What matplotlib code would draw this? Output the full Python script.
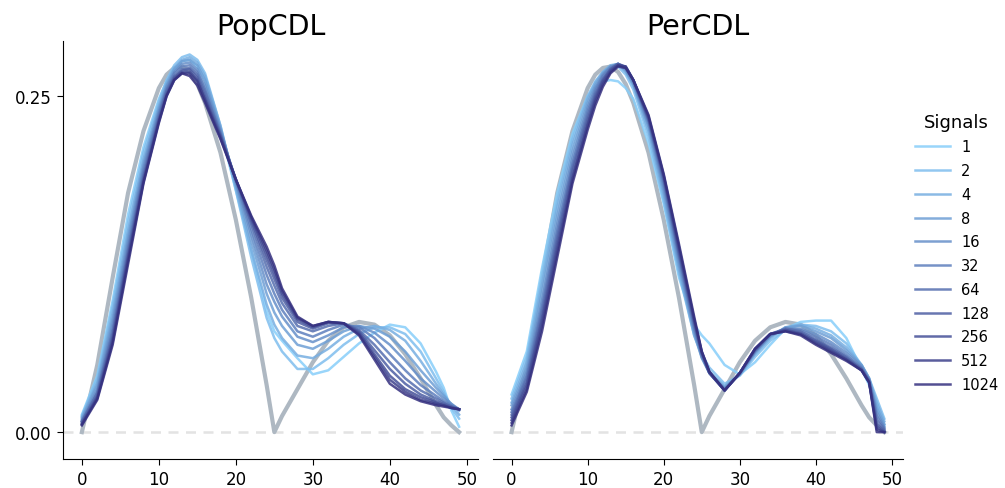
import numpy as np
import matplotlib.pyplot as plt
from matplotlib.colors import to_rgb

# x positions of the samples
x = [0, 2, 4, 6, 8, 10, 11, 12, 13, 14, 15, 16, 18, 20, 22, 24, 25, 26, 28, 30,
     32, 34, 36, 38, 40, 42, 44, 46, 47, 48, 49]

true_signal = [0, .05, .115, .178, .224, .256, .266, .271, .272, .268, .259, .245, .208,
               .158, .1, .035, 0, .012, .032, .052, .068, .078, .082, .08, .072, .058,
               .04, .02, .011, .005, 0]

signals = [1, 2, 4, 8, 16, 32, 64, 128, 256, 512, 1024]

# PopCDL estimates, one row per number of signals
pop = [
    [.013, .042, .098, .162, .212, .248, .261, .27, .276, .277, .272, .262, .225, .18, .135, .09, .075, .068, .055, .043, .046, .056, .066, .074, .08, .078, .066, .045, .033, .016, .004],
    [.012, .04, .094, .156, .208, .246, .262, .273, .279, .281, .277, .267, .228, .18, .13, .085, .07, .06, .047, .047, .055, .065, .073, .078, .078, .073, .06, .04, .03, .018, .01],
    [.011, .037, .089, .15, .203, .243, .26, .271, .277, .279, .275, .265, .228, .182, .136, .095, .08, .07, .057, .055, .062, .071, .077, .079, .076, .068, .053, .036, .028, .02, .013],
    [.01, .035, .085, .146, .2, .241, .258, .27, .276, .277, .273, .262, .226, .184, .142, .103, .089, .079, .065, .062, .068, .075, .079, .077, .071, .06, .046, .033, .027, .021, .016],
    [.009, .032, .081, .142, .197, .239, .257, .268, .274, .275, .27, .258, .225, .186, .147, .11, .097, .086, .071, .067, .072, .078, .079, .074, .065, .053, .04, .03, .025, .021, .017],
    [.008, .03, .077, .138, .194, .237, .255, .267, .272, .273, .268, .255, .223, .187, .151, .117, .103, .091, .075, .071, .076, .08, .078, .07, .058, .046, .035, .027, .023, .02, .017],
    [.008, .029, .074, .135, .191, .235, .254, .265, .27, .271, .266, .253, .222, .188, .155, .123, .109, .096, .079, .075, .079, .081, .076, .065, .052, .04, .031, .025, .022, .019, .017],
    [.007, .027, .071, .132, .189, .233, .252, .264, .269, .27, .264, .25, .221, .188, .157, .128, .114, .1, .082, .077, .081, .081, .075, .061, .047, .036, .028, .023, .021, .019, .017],
    [.006, .026, .069, .13, .187, .232, .251, .263, .268, .268, .262, .248, .22, .188, .159, .132, .118, .103, .084, .078, .082, .081, .074, .058, .042, .032, .026, .022, .02, .018, .017],
    [.006, .025, .067, .128, .186, .231, .25, .262, .267, .267, .261, .247, .219, .188, .16, .135, .121, .105, .085, .079, .082, .081, .073, .056, .039, .03, .024, .021, .02, .018, .017],
    [.005, .024, .065, .125, .185, .23, .25, .262, .267, .265, .258, .245, .218, .188, .161, .138, .124, .107, .086, .079, .082, .081, .072, .054, .036, .028, .023, .02, .019, .018, .017],
]

# PerCDL estimates
per = [
    [.028, .06, .122, .178, .222, .25, .257, .261, .262, .261, .256, .248, .215, .17, .115, .08, .072, .066, .05, .043, .052, .065, .077, .082, .083, .083, .07, .047, .035, .02, .005],
    [.025, .056, .115, .172, .218, .25, .261, .268, .272, .272, .266, .255, .22, .172, .118, .072, .058, .048, .036, .042, .056, .068, .076, .08, .079, .075, .066, .05, .04, .025, .01],
    [.022, .052, .11, .167, .214, .248, .26, .268, .273, .274, .268, .258, .224, .176, .121, .072, .056, .045, .034, .043, .058, .07, .078, .08, .077, .072, .063, .05, .04, .022, .008],
    [.02, .048, .104, .161, .209, .245, .258, .267, .272, .274, .269, .259, .227, .179, .124, .074, .055, .044, .033, .043, .059, .071, .078, .079, .075, .07, .061, .05, .04, .018, .006],
    [.017, .045, .098, .155, .204, .242, .256, .266, .272, .274, .27, .26, .229, .182, .127, .076, .056, .044, .032, .043, .06, .072, .077, .077, .073, .067, .059, .049, .039, .015, .004],
    [.015, .042, .094, .15, .2, .239, .254, .265, .271, .274, .271, .261, .231, .185, .13, .078, .057, .044, .032, .044, .06, .072, .077, .076, .071, .065, .057, .048, .039, .012, .003],
    [.013, .04, .09, .146, .197, .236, .252, .263, .27, .274, .271, .262, .232, .187, .132, .08, .058, .044, .031, .044, .061, .073, .077, .075, .069, .063, .056, .047, .038, .009, .002],
    [.011, .037, .086, .142, .194, .233, .25, .262, .27, .274, .272, .262, .233, .189, .134, .082, .059, .044, .031, .044, .061, .073, .076, .074, .068, .062, .055, .047, .038, .006, .001],
    [.009, .035, .083, .138, .19, .23, .248, .261, .269, .273, .272, .262, .234, .19, .136, .083, .059, .044, .031, .044, .062, .073, .076, .073, .067, .061, .054, .046, .037, .004, 0],
    [.007, .032, .079, .134, .188, .228, .246, .259, .268, .273, .272, .262, .235, .191, .138, .084, .06, .045, .031, .044, .062, .073, .075, .073, .066, .06, .054, .046, .037, .002, 0],
    [.005, .03, .075, .13, .185, .225, .243, .257, .267, .272, .271, .262, .236, .192, .14, .086, .06, .045, .031, .044, .062, .073, .075, .072, .065, .059, .053, .046, .037, 0, 0],
]

# colours: light sky blue -> dark slate blue
c0 = np.array(to_rgb("#87CEFA"))
c1 = np.array(to_rgb("#35307f"))
colors = [tuple(c0 + (c1 - c0) * t) for t in np.linspace(0, 1, len(signals))]

fig = plt.figure(figsize=(10.05, 4.89), dpi=100)
ax1 = fig.add_axes([0.0627, 0.0593, 0.4129, 0.8547])
ax2 = fig.add_axes([0.4905, 0.0593, 0.4080, 0.8547], sharey=ax1)

for ax, est, title in [(ax1, pop, "PopCDL"), (ax2, per, "PerCDL")]:
    ax.axhline(0, color="#e3e3e3", ls=(0, (4, 3)), lw=1.8, zorder=0)
    ax.plot(x, true_signal, color="#aeb8c2", lw=3, zorder=1)
    for s, y, c in zip(signals, est, colors):
        ax.plot(x, y, color=c, lw=1.8, alpha=0.85, label=str(s), zorder=2)
    ax.set_title(title, fontsize=20.5, pad=5)
    ax.set_xticks([0, 10, 20, 30, 40, 50])
    ax.tick_params(labelsize=12, length=4.5)
    ax.spines["top"].set_visible(False)
    ax.spines["right"].set_visible(False)
    ax.set_xlim(-2.45, 51.45)

ax1.set_ylim(-0.02, 0.291)
ax1.set_yticks([0, 0.25])
ax1.set_yticklabels(["0.00", "0.25"])
ax2.spines["left"].set_visible(False)
ax2.tick_params(axis="y", left=False, labelleft=False)

handles, labels = ax2.get_legend_handles_labels()
fig.legend(handles, labels, title="Signals", loc="center left",
           bbox_to_anchor=(0.897, 0.482), frameon=False, fontsize=10.5,
           title_fontsize=13, handlelength=2.4, labelspacing=0.6)

fig.savefig("out.png", dpi=100)
